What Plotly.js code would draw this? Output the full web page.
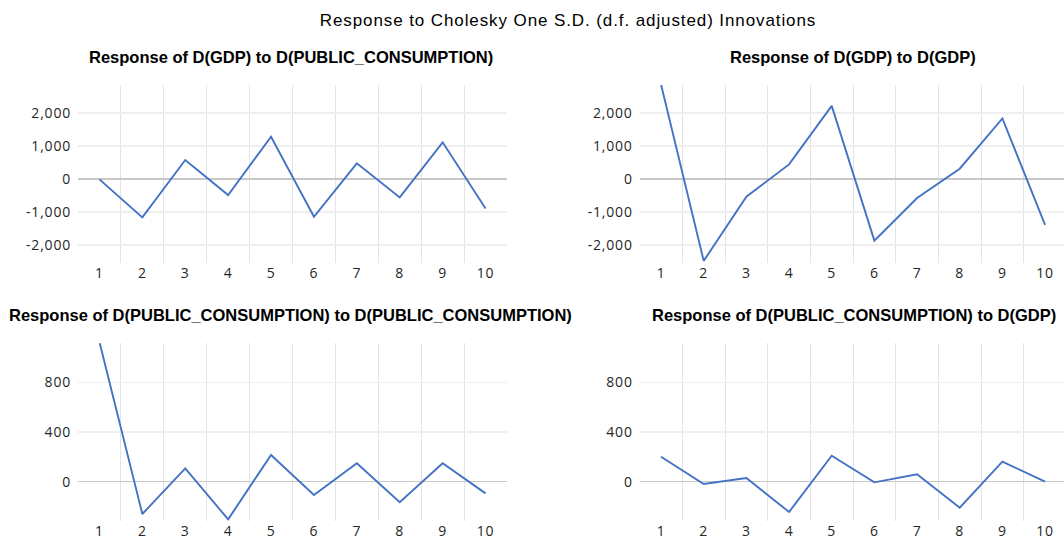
<!DOCTYPE html>
<html>
<head>
<meta charset="utf-8">
<script src="https://cdn.plot.ly/plotly-3.0.1.min.js"></script>
<style>
html,body{margin:0;padding:0;background:#fff;}
#chart{width:1064px;height:539px;}
#chart .cartesianlayer text{letter-spacing:0.8px;}
#chart .gtitle{letter-spacing:0.9px;}
</style>
</head>
<body>
<div id="chart"></div>
<script>
// ---- data ----
const periods = [1, 2, 3, 4, 5, 6, 7, 8, 9, 10];
const gdpToPublic = [-10, -1165, 577, -486, 1286, -1145, 477, -557, 1115, -892];
const gdpToGdp = [2870, -2485, -535, 444, 2222, -1869, -576, 313, 1838, -1394];
const publicToPublic = [1125, -260, 107, -303, 215, -107, 148, -166, 148, -94];
const publicToGdp = [201, -19, 30, -244, 209, -5, 59, -209, 161, 0];

const mainTitle = "Response to Cholesky One S.D. (d.f. adjusted) Innovations";
const panelTitles = [
  "Response of D(GDP) to D(PUBLIC_CONSUMPTION)",
  "Response of D(GDP) to D(GDP)",
  "Response of D(PUBLIC_CONSUMPTION) to D(PUBLIC_CONSUMPTION)",
  "Response of D(PUBLIC_CONSUMPTION) to D(GDP)"
];
const gdpTicks = [-2000, -1000, 0, 1000, 2000];
const gdpTickLabels = ["-2,000", "-1,000", "0", "1,000", "2,000"];
const publicTicks = [0, 400, 800];
const publicTickLabels = ["0", "400", "800"];

// ---- styling ----
const W = 1064, H = 539;
const lineColor = "#4472C4";
const tickFont = {family: "Open Sans, Noto Sans, sans-serif", size: 14, color: "#262626"};
const titleFont = {family: "Liberation Sans, Arial, sans-serif", size: 16.5, color: "#000"};
const boundaries = periods.slice(1).map(p => p - 0.5);

function px(x) { return x / W; }
function py(y) { return 1 - y / H; }

function xaxis(domain, range) {
  return {
    domain: domain, range: range, type: "linear",
    tickmode: "array", tickvals: periods, ticktext: periods.map(String),
    showgrid: false, zeroline: false, showline: false, ticks: "",
    tickfont: tickFont, fixedrange: true,
    minor: {tickmode: "array", tickvals: boundaries, showgrid: true, gridcolor: "#e4e4e4", gridwidth: 1, ticks: ""}
  };
}
function yaxis(domain, range, ticks, labels, anchor) {
  return {
    domain: domain, range: range, anchor: anchor,
    tickmode: "array", tickvals: ticks, ticktext: labels,
    showgrid: true, gridcolor: "#efefef", gridwidth: 1.5,
    zeroline: true, zerolinecolor: "#c8c8c8", zerolinewidth: 1.5,
    showline: false, ticks: "", ticklabelstandoff: 6,
    tickfont: tickFont, fixedrange: true
  };
}

const leftX = [px(78), px(507)];
const rightX = [px(639.7), 1];
const topY = [py(262.7), py(85)];
const botY = [py(520.7), py(343.3)];
const gdpRange = [-2540, 2855];
const pubRange = [-314, 1114];

function trace(y, xa, ya) {
  return {x: periods, y: y, xaxis: xa, yaxis: ya, type: "scatter", mode: "lines",
          line: {color: lineColor, width: 1.9}, hoverinfo: "skip", showlegend: false};
}

const data = [
  trace(gdpToPublic, "x", "y"),
  trace(gdpToGdp, "x2", "y2"),
  trace(publicToPublic, "x3", "y3"),
  trace(publicToGdp, "x4", "y4")
];

const layout = {
  width: W, height: H,
  margin: {l: 0, r: 0, t: 0, b: 0},
  paper_bgcolor: "#fff", plot_bgcolor: "#fff",
  showlegend: false,
  title: {text: mainTitle, x: 568 / W, xanchor: "center", y: py(20), yanchor: "middle",
          font: {family: titleFont.family, size: 17, color: "#000"}},
  xaxis: Object.assign(xaxis(leftX, [0.5, 10.5]), {anchor: "y"}),
  yaxis: yaxis(topY, gdpRange, gdpTicks, gdpTickLabels, "x"),
  xaxis2: Object.assign(xaxis(rightX, [0.5, 0.5 + (W - 639.7) / 42.67]), {anchor: "y2"}),
  yaxis2: yaxis(topY, gdpRange, gdpTicks, gdpTickLabels, "x2"),
  xaxis3: Object.assign(xaxis(leftX, [0.5, 10.5]), {anchor: "y3"}),
  yaxis3: yaxis(botY, pubRange, publicTicks, publicTickLabels, "x3"),
  xaxis4: Object.assign(xaxis(rightX, [0.5, 0.5 + (W - 639.7) / 42.67]), {anchor: "y4"}),
  yaxis4: yaxis(botY, pubRange, publicTicks, publicTickLabels, "x4"),
  annotations: [
    {text: "<b>" + panelTitles[0] + "</b>", x: px(290.5), y: py(57)},
    {text: "<b>" + panelTitles[1] + "</b>", x: px(853), y: py(57)},
    {text: "<b>" + panelTitles[2] + "</b>", x: px(290), y: py(315)},
    {text: "<b>" + panelTitles[3] + "</b>", x: px(853.5), y: py(315)}
  ].map(a => Object.assign(a, {xref: "paper", yref: "paper", xanchor: "center", yanchor: "middle",
                               showarrow: false, font: titleFont}))
};

Plotly.newPlot("chart", data, layout, {displayModeBar: false, staticPlot: true});
</script>
</body>
</html>
